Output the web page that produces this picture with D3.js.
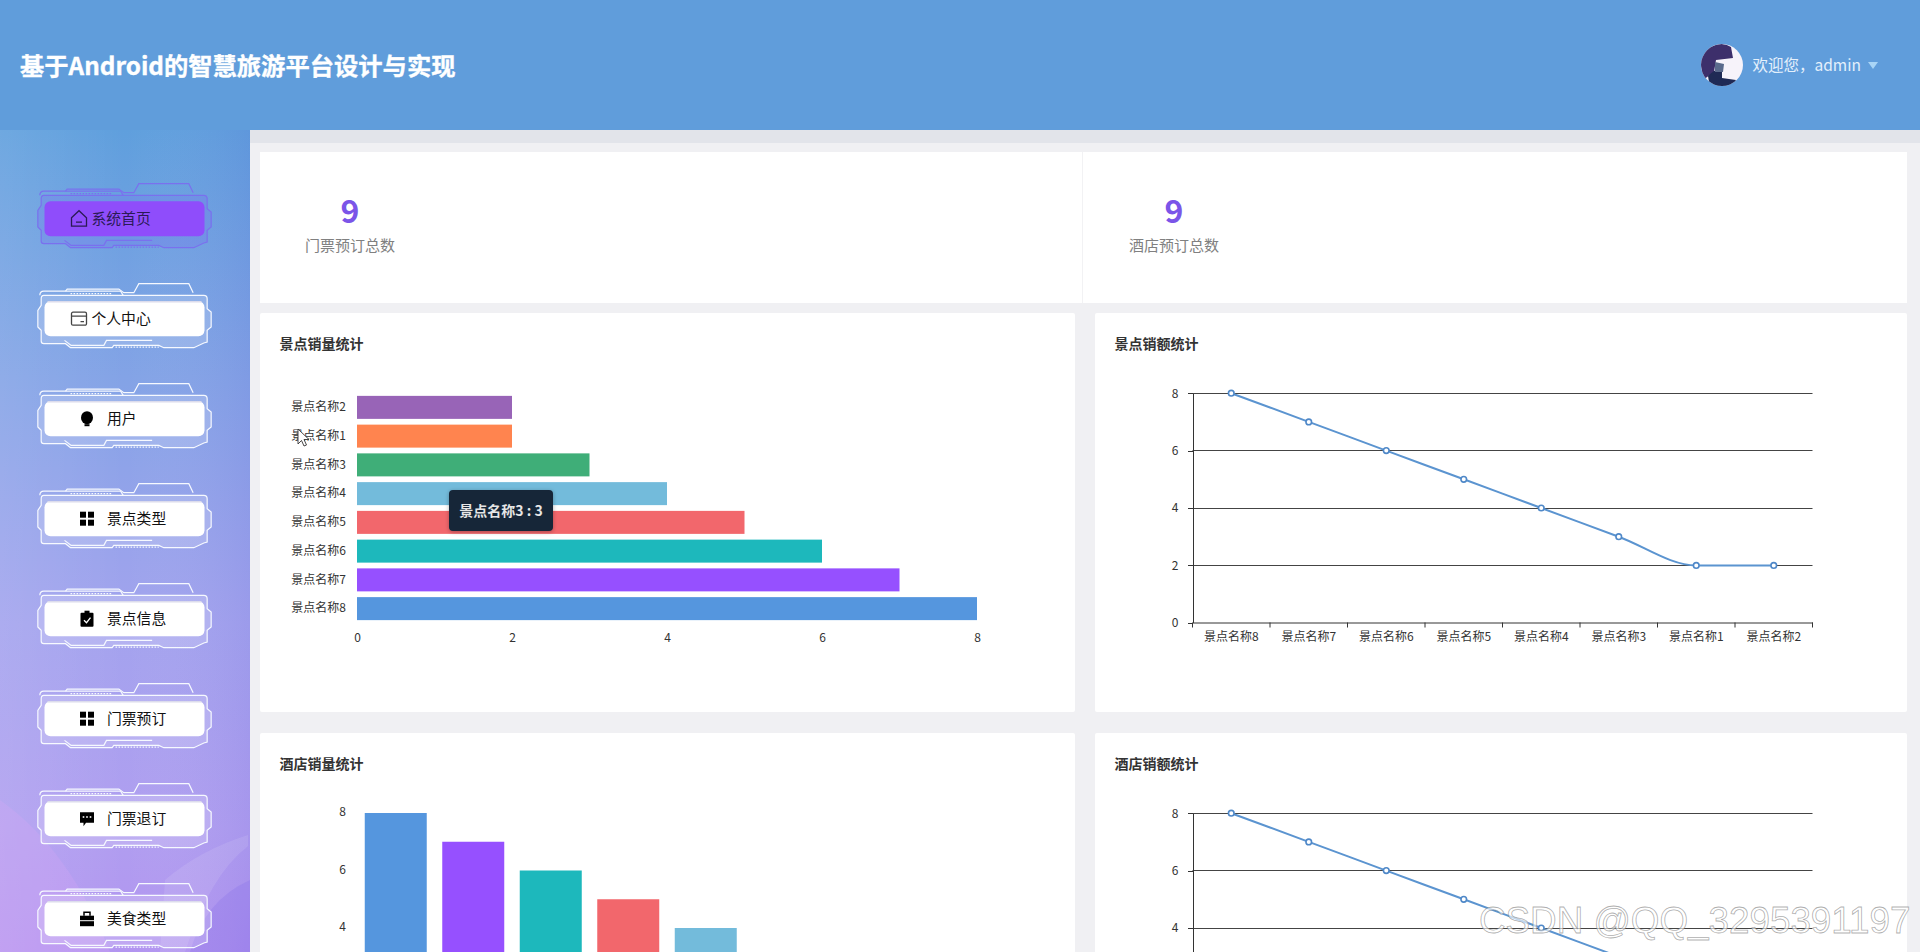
<!DOCTYPE html>
<html>
<head>
<meta charset="utf-8">
<script src="https://cdn.jsdelivr.net/npm/d3@7"></script>
<style>
html, body { margin: 0; padding: 0; overflow: hidden; background: #f0f0f3; }
svg { display: block; }
text { font-family: "Noto Sans CJK SC", "Noto Sans", sans-serif; }
</style>
</head>
<body>
<svg id="page" width="1920" height="952"></svg>
<script>
// Chart data
var spotNames = ['景点名称8', '景点名称7', '景点名称6', '景点名称5', '景点名称4', '景点名称3', '景点名称1', '景点名称2'];
var spotSales = [8, 7, 6, 5, 4, 3, 2, 2];
var spotRevenue = [8, 7, 6, 5, 4, 3, 2, 2];
var hotelSales = [8, 7, 6, 5, 4, 3, 2, 2];
var hotelRevenue = [8, 7, 6, 5, 4, 3, 2, 2];
var valueTicks = [0, 2, 4, 6, 8];
var barColors = ['#5596de', '#9650ff', '#1db8bc', '#f2676c', '#73bbdb', '#3fae78', '#ff844f', '#9864b7'];

var menuItems = ['系统首页', '个人中心', '用户', '景点类型', '景点信息', '门票预订', '门票退订', '美食类型'];
var menuIcons = ['home', 'wallet', 'bulb', 'grid', 'clip', 'grid', 'chat', 'case'];

var totals = [
    { label: '门票预订总数', value: 9, x: 350 },
    { label: '酒店预订总数', value: 9, x: 1174 }
];

var svg = d3.select('#page');
var defs = svg.append('defs');

var sideGrad = defs.append('linearGradient').attr('id', 'sideGrad')
    .attr('x1', 0.5).attr('y1', 0).attr('x2', 0.5).attr('y2', 1);
[['0%', '#5f9fdd'], ['30%', '#83a3e6'], ['60%', '#a3a3ee'], ['85%', '#b09ef0'], ['100%', '#b294f0']].forEach(function (s) {
    sideGrad.append('stop').attr('offset', s[0]).attr('stop-color', s[1]);
});

// left edge a bit lighter, right edge a bit deeper
var sideTint = defs.append('linearGradient').attr('id', 'sideTint');
sideTint.append('stop').attr('offset', '0%').attr('stop-color', '#fff').attr('stop-opacity', 0.1);
sideTint.append('stop').attr('offset', '50%').attr('stop-color', '#fff').attr('stop-opacity', 0);
sideTint.append('stop').attr('offset', '100%').attr('stop-color', '#5a50d0').attr('stop-opacity', 0.1);

var shadow = defs.append('filter').attr('id', 'tipShadow').attr('x', '-20%').attr('y', '-20%').attr('width', '140%').attr('height', '140%');
shadow.append('feDropShadow').attr('dx', 0).attr('dy', 1).attr('stdDeviation', 2).attr('flood-opacity', 0.3);

drawBackground();
drawHeader();
drawSidebar();
drawTotals();

drawHBars(260, 312, '景点销量统计', spotNames, spotSales);
drawLine(1095, 312, '景点销额统计', spotNames, spotRevenue);
drawVBars(260, 732, '酒店销量统计', spotNames, hotelSales);
drawLine(1095, 732, '酒店销额统计', spotNames, hotelRevenue);

drawTooltip();
drawCursor();
drawWatermark();

function drawBackground() {
    svg.append('rect').attr('width', 1920).attr('height', 952).attr('fill', '#f0f0f3');
    // darker strip under the header
    svg.append('rect').attr('x', 250).attr('y', 130).attr('width', 1670).attr('height', 13).attr('fill', '#e2e4ea');
}

function drawHeader() {
    svg.append('rect').attr('width', 1920).attr('height', 130).attr('fill', '#609ddb');
    svg.append('text').attr('x', 20).attr('y', 74.5)
        .attr('font-size', 24.3).attr('font-weight', 700).attr('fill', '#fff')
        .attr('stroke', '#fff').attr('stroke-width', 0.35)
        .text('基于Android的智慧旅游平台设计与实现');

    // avatar
    var clip = defs.append('clipPath').attr('id', 'avatarClip');
    clip.append('circle').attr('cx', 1722).attr('cy', 65).attr('r', 21);
    var av = svg.append('g').attr('clip-path', 'url(#avatarClip)');
    av.append('rect').attr('x', 1700).attr('y', 43).attr('width', 44).attr('height', 44).attr('fill', '#f7f3fa');
    av.append('path').attr('d', 'M1706,50 Q1720,40 1731,47 L1733,58 L1716,60 L1714,72 L1703,80 L1700,60 Z').attr('fill', '#3d2f6b');
    av.append('path').attr('d', 'M1708,76 Q1716,68 1722,70 L1722,78 L1736,80 L1732,88 L1710,88 Z').attr('fill', '#1f2a55');
    av.append('path').attr('d', 'M1715,62 L1724,64 L1723,72 L1715,72 Z').attr('fill', '#5a6a8c');

    svg.append('text').attr('x', 1752.5).attr('y', 70.5)
        .attr('font-size', 15.5).attr('fill', '#e4f0fc')
        .text('欢迎您，admin');
    svg.append('path').attr('d', 'M1868,62 H1878 L1873,69 Z').attr('fill', '#a9d5f6');
}

function drawSidebar() {
    svg.append('rect').attr('x', 0).attr('y', 130).attr('width', 250).attr('height', 822).attr('fill', 'url(#sideGrad)');
    svg.append('rect').attr('x', 0).attr('y', 130).attr('width', 250).attr('height', 822).attr('fill', 'url(#sideTint)');

    // soft shapes in the lower corner of the background picture
    svg.append('path').attr('d', 'M0,800 Q70,850 110,952 L0,952 Z').attr('fill', '#e0a8f4').attr('opacity', 0.22);
    svg.append('path').attr('d', 'M165,880 Q200,850 248,835 L248,846 Q210,875 185,952 L160,952 Z').attr('fill', '#fff').attr('opacity', 0.1);
    svg.append('path').attr('d', 'M190,952 Q205,900 250,880 L250,952 Z').attr('fill', '#7d66e8').attr('opacity', 0.22);

    var items = svg.selectAll('g.menu').data(menuItems).enter().append('g')
        .attr('class', 'menu')
        .attr('transform', function (d, i) { return 'translate(124.5,' + (218.7 + i * 100) + ')'; });

    items.each(function (d, i) {
        var g = d3.select(this);
        var active = i === 0;
        var line = active ? '#7a70ee' : '#f6f9ff';

        // frame, drawn in 3x units around the button centre
        var frame = g.append('g').attr('transform', 'scale(0.3333) translate(-372,-565)')
            .attr('fill', 'none').attr('stroke', line).attr('stroke-width', 3.6);
        frame.append('path')
            .attr('d', 'M130,495 H610 Q620,495 620,505 V535 L632,545 V590 L620,600 V635 L610,638 L580,652 H490 L475,645 H340 L335,652 H210 L195,640 H130 Q122,640 122,632 V600 L112,590 V540 L122,525 V505 Q122,495 130,495 Z')
            .attr('fill', active ? 'rgba(120,110,240,0.28)' : 'rgba(255,255,255,0.18)');
        frame.append('path').attr('d', 'M118,495 Q118,482 130,482 H195 L200,476 H355 L370,487 H400 L415,460 H565 L578,487');
        frame.append('path').attr('d', 'M195,482 H360 L368,495');
        frame.append('path').attr('d', 'M210,490 H335').attr('stroke-dasharray', '5 4');
        frame.append('path').attr('d', 'M192,630 L212,645 H310 L318,630 H455');
        frame.append('path').attr('d', 'M345,650 H475').attr('stroke-dasharray', '5 4');

        g.append('rect').attr('x', -80).attr('y', -17.5).attr('width', 160).attr('height', 35).attr('rx', 6)
            .attr('fill', active ? '#8f4dfb' : '#fff');
        if (!active) {
            g.append('path').attr('d', 'M-77,-17 H77').attr('stroke', '#dcdcec').attr('stroke-width', 1.5);
        }

        var wide = i < 2;
        drawIcon(g.append('g').attr('transform', 'translate(' + (wide ? -45.5 : -37.5) + ',0)'), menuIcons[i]);

        g.append('text').attr('x', wide ? -33 : -17.5).attr('y', 5.5)
            .attr('font-size', 14.8).attr('fill', active ? '#2a1a55' : '#111')
            .text(d);
    });
}

// small menu icons, centred on the origin
function drawIcon(g, name) {
    if (name === 'home') {
        g.append('path').attr('d', 'M-7.5,-1 L0,-8 L7.5,-1 V7.5 H-7.5 Z M-3,3.5 H3')
            .attr('fill', 'none').attr('stroke', '#2a1a55').attr('stroke-width', 1.3);
    } else if (name === 'wallet') {
        g.append('rect').attr('x', -7.5).attr('y', -6.5).attr('width', 15).attr('height', 13).attr('rx', 1.5)
            .attr('fill', 'none').attr('stroke', '#444').attr('stroke-width', 1.3);
        g.append('path').attr('d', 'M-7.5,-2.5 H7.5 M1.5,3 H5').attr('stroke', '#444').attr('stroke-width', 1.3);
    } else if (name === 'bulb') {
        g.append('ellipse').attr('cy', -1).attr('rx', 6).attr('ry', 6.5).attr('fill', '#000');
        g.append('rect').attr('x', -2.5).attr('y', 5.5).attr('width', 5).attr('height', 2).attr('fill', '#000');
    } else if (name === 'grid') {
        [[-7, -7], [1, -7], [-7, 1], [1, 1]].forEach(function (p) {
            g.append('rect').attr('x', p[0]).attr('y', p[1]).attr('width', 6).attr('height', 6).attr('fill', '#000');
        });
    } else if (name === 'clip') {
        g.append('rect').attr('x', -6.5).attr('y', -6).attr('width', 13).attr('height', 14).attr('rx', 1).attr('fill', '#000');
        g.append('rect').attr('x', -2.5).attr('y', -8).attr('width', 5).attr('height', 3).attr('fill', '#000');
        g.append('path').attr('d', 'M-3,1.5 L-0.5,4 L3.5,-1').attr('fill', 'none').attr('stroke', '#fff').attr('stroke-width', 1.3);
    } else if (name === 'chat') {
        g.append('path').attr('d', 'M-7,-6.5 H7 V4 H-1 L-3.5,7.5 V4 H-7 Z').attr('fill', '#000');
        [-3.5, 0, 3.5].forEach(function (x) {
            g.append('rect').attr('x', x - 0.8).attr('y', -2.5).attr('width', 1.6).attr('height', 1.6).attr('fill', '#fff');
        });
    } else if (name === 'case') {
        g.append('rect').attr('x', -7).attr('y', -3).attr('width', 14).attr('height', 4.5).attr('fill', '#000');
        g.append('rect').attr('x', -7).attr('y', 2.5).attr('width', 14).attr('height', 5).attr('fill', '#000');
        g.append('path').attr('d', 'M-3,-3 V-6.5 H3 V-3').attr('fill', 'none').attr('stroke', '#000').attr('stroke-width', 1.5);
    }
}

function drawTotals() {
    svg.append('rect').attr('x', 260).attr('y', 152).attr('width', 1647).attr('height', 151).attr('fill', '#fff');
    svg.append('line').attr('x1', 1082.5).attr('x2', 1082.5).attr('y1', 152).attr('y2', 303).attr('stroke', '#f2f2f4');

    var g = svg.selectAll('g.total').data(totals).enter().append('g').attr('class', 'total');
    g.append('text').attr('x', function (d) { return d.x; }).attr('y', 223)
        .attr('text-anchor', 'middle').attr('font-size', 32).attr('font-weight', 700).attr('fill', '#7b55e8')
        .text(function (d) { return d.value; });
    g.append('text').attr('x', function (d) { return d.x; }).attr('y', 250.5)
        .attr('text-anchor', 'middle').attr('font-size', 15).attr('fill', '#808080')
        .text(function (d) { return d.label; });
}

// white panel with the bold heading; all four charts share it
function chartCard(left, top, title) {
    var w = left < 1000 ? 815 : 812;
    var g = svg.append('g').attr('transform', 'translate(' + left + ',' + top + ')');
    g.append('rect').attr('y', 1).attr('width', w).attr('height', 399).attr('rx', 2).attr('fill', '#fff');
    g.append('text').attr('x', 19.5).attr('y', 37)
        .attr('font-size', 14).attr('font-weight', 700).attr('fill', '#333').text(title);
    return g;
}

function styleAxisText(sel) {
    sel.selectAll('text').attr('font-size', 12).attr('fill', '#333')
        .style('font-family', '"Noto Sans CJK SC", "Noto Sans", sans-serif');
}

function drawHBars(left, top, title, names, values) {
    var g = chartCard(left, top, title);
    var x = d3.scaleLinear().domain([0, 8]).range([97, 717]);
    var y = d3.scaleBand().domain(names).range([311, 81]).paddingInner(0.2).paddingOuter(0.1);

    g.selectAll('rect.bar').data(values).enter().append('rect').attr('class', 'bar')
        .attr('x', x(0))
        .attr('y', function (d, i) { return y(names[i]); })
        .attr('width', function (d) { return x(d) - x(0); })
        .attr('height', y.bandwidth())
        .attr('fill', function (d, i) { return barColors[i]; });

    var xAxis = g.append('g').attr('transform', 'translate(0,311)')
        .call(d3.axisBottom(x).tickValues(valueTicks).tickSize(0).tickPadding(10));
    xAxis.select('.domain').remove();
    styleAxisText(xAxis);

    var yAxis = g.append('g').attr('transform', 'translate(97,0)')
        .call(d3.axisLeft(y).tickSize(0).tickPadding(11));
    yAxis.select('.domain').remove();
    styleAxisText(yAxis);
}

function drawVBars(left, top, title, names, values) {
    var g = chartCard(left, top, title);
    var x = d3.scaleBand().domain(names).range([97, 717]).paddingInner(0.2).paddingOuter(0.1);
    var y = d3.scaleLinear().domain([0, 8]).range([311, 81]);

    g.selectAll('rect.bar').data(values).enter().append('rect').attr('class', 'bar')
        .attr('x', function (d, i) { return x(names[i]); })
        .attr('y', function (d) { return y(d); })
        .attr('width', x.bandwidth())
        .attr('height', function (d) { return y(0) - y(d); })
        .attr('fill', function (d, i) { return barColors[i]; });

    var yAxis = g.append('g').attr('transform', 'translate(97,-1)')
        .call(d3.axisLeft(y).tickValues(valueTicks).tickSize(0).tickPadding(11));
    yAxis.select('.domain').remove();
    styleAxisText(yAxis);
}

function drawLine(left, top, title, names, values) {
    var g = chartCard(left, top, title);
    var x = d3.scaleBand().domain(names).range([97.5, 717.5]);
    var y = d3.scaleLinear().domain([0, 8]).range([310.8, 81.2]);

    // grid lines at the value ticks
    g.selectAll('line.grid').data(valueTicks.slice(1)).enter().append('line').attr('class', 'grid')
        .attr('x1', x.range()[0]).attr('x2', x.range()[1])
        .attr('y1', function (d) { return Math.round(y(d) - 0.5) + 0.5; })
        .attr('y2', function (d) { return Math.round(y(d) - 0.5) + 0.5; })
        .attr('stroke', '#444').attr('stroke-width', 1);

    var yAxis = g.append('g').attr('transform', 'translate(97.5,0)')
        .call(d3.axisLeft(y).tickValues(valueTicks).tickSize(5).tickPadding(9).tickSizeOuter(0));
    yAxis.selectAll('path,line').attr('stroke', '#333').attr('shape-rendering', 'crispEdges');
    styleAxisText(yAxis);

    var xAxis = g.append('g').attr('transform', 'translate(0,310.5)')
        .call(d3.axisBottom(x).tickSize(0).tickPadding(10).tickSizeOuter(0));
    xAxis.selectAll('path').attr('stroke', '#333');
    styleAxisText(xAxis);
    // ticks sit on the band edges, not the band centres
    xAxis.selectAll('line.edge').data(d3.range(names.length + 1)).enter().append('line').attr('class', 'edge')
        .attr('x1', function (d) { return x.range()[0] + d * x.step(); })
        .attr('x2', function (d) { return x.range()[0] + d * x.step(); })
        .attr('y1', 0).attr('y2', 5).attr('stroke', '#333');

    var cx = function (d, i) { return x(names[i]) + x.bandwidth() / 2; };
    var path = d3.line().x(cx).y(function (d) { return y(d); }).curve(d3.curveMonotoneX);

    g.append('path').datum(values).attr('d', path)
        .attr('fill', 'none').attr('stroke', '#5b94d0').attr('stroke-width', 2);

    g.selectAll('circle.pt').data(values).enter().append('circle').attr('class', 'pt')
        .attr('cx', cx).attr('cy', function (d) { return y(d); }).attr('r', 2.8)
        .attr('fill', '#fff').attr('stroke', '#4f88c8').attr('stroke-width', 1.6);
}

function drawTooltip() {
    var g = svg.append('g').attr('transform', 'translate(449,490)');
    g.append('rect').attr('width', 104).attr('height', 41).attr('rx', 4)
        .attr('fill', '#152638').attr('filter', 'url(#tipShadow)');
    g.append('text').attr('x', 52).attr('y', 25.5).attr('text-anchor', 'middle')
        .attr('font-size', 14).attr('font-weight', 700).attr('fill', '#e6e6e6')
        .text('景点名称3 : 3');
}

function drawCursor() {
    svg.append('path')
        .attr('d', 'M298,429 V444 L301.5,440.5 L304,446 L306.5,445 L304,439.5 L309,439.5 Z')
        .attr('fill', '#fff').attr('stroke', '#333').attr('stroke-width', 0.9);
}

function drawWatermark() {
    svg.append('text').attr('x', 1479).attr('y', 932.5)
        .attr('font-size', 36.8)
        .attr('fill', 'rgba(255,255,255,0.65)').attr('stroke', 'rgba(130,130,130,0.65)').attr('stroke-width', 0.8)
        .style('font-family', '"Liberation Sans", sans-serif')
        .text('CSDN @QQ_3295391197');
}
</script>
</body>
</html>
